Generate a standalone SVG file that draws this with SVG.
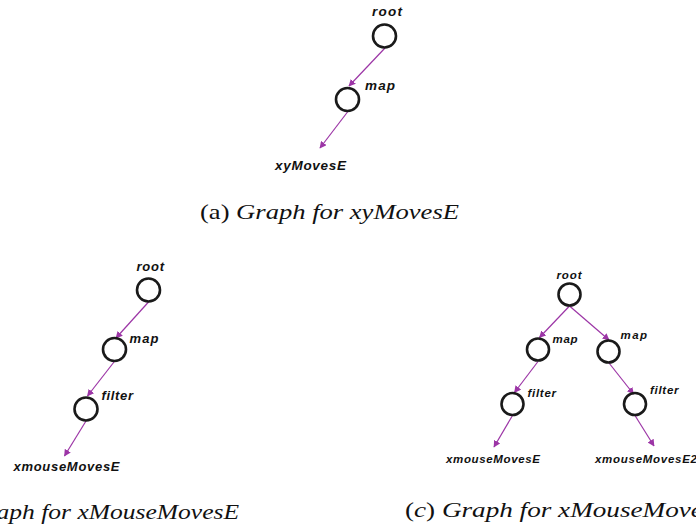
<svg xmlns="http://www.w3.org/2000/svg" width="696" height="531" viewBox="0 0 696 531">
<style>
.n{fill:none;stroke:#1a1a1a;stroke-width:2.6}
.lbl{font-family:"Liberation Sans",Arial,sans-serif;font-weight:bold;font-style:italic;fill:#111}
.a{font-size:13.5px}
.b{font-size:13px}
.c{font-size:11.5px}
.e{fill:none;stroke:#9C35A6;stroke-width:1.2;marker-end:url(#ah)}
.cap{font-family:"Liberation Serif","Times New Roman",serif;font-size:22px;fill:#111}
.it{font-style:italic}
</style>
<defs>
<marker id="ah" viewBox="0 0 10 10" refX="9" refY="5" markerWidth="7" markerHeight="7" markerUnits="userSpaceOnUse" orient="auto">
<path d="M0,0 L10,5 L0,10 z" fill="#9C35A6"/>
</marker>
</defs>
<g id="connectors">
<line class="e" x1="385" y1="48" x2="349" y2="86"/>
<line class="e" x1="347.5" y1="112" x2="320" y2="148"/>
<line class="e" x1="148.5" y1="302" x2="116" y2="338"/>
<line class="e" x1="114" y1="362" x2="87.5" y2="396"/>
<line class="e" x1="86" y1="421" x2="64.5" y2="456"/>
<line class="e" x1="569.5" y1="306" x2="539.5" y2="337.5"/>
<line class="e" x1="569.5" y1="306" x2="609" y2="340"/>
<line class="e" x1="538" y1="361.5" x2="514.5" y2="392.5"/>
<line class="e" x1="512.5" y1="415.5" x2="494" y2="447"/>
<line class="e" x1="609" y1="363" x2="633.5" y2="394"/>
<line class="e" x1="635" y1="415.5" x2="654" y2="446"/>
</g>
<g id="a-root"><circle class="n" cx="384.5" cy="36" r="11.5"/><text class="lbl a" x="372" y="16" textLength="30" lengthAdjust="spacing">root</text></g>
<g id="a-map"><circle class="n" cx="347.5" cy="99.5" r="11.5"/><text class="lbl a" x="365" y="90" textLength="30" lengthAdjust="spacing">map</text></g>
<g id="a-xyMovesE"><text class="lbl a" x="275" y="170" textLength="71" lengthAdjust="spacing">xyMovesE</text></g>
<g id="b-root"><circle class="n" cx="148.5" cy="290" r="11.5"/><text class="lbl b" x="136.5" y="270.5" textLength="27.5" lengthAdjust="spacing">root</text></g>
<g id="b-map"><circle class="n" cx="114.5" cy="349.5" r="11.5"/><text class="lbl b" x="129.5" y="342.5" textLength="29" lengthAdjust="spacing">map</text></g>
<g id="b-filter"><circle class="n" cx="86" cy="409" r="11.5"/><text class="lbl b" x="101.5" y="400" textLength="31.5" lengthAdjust="spacing">filter</text></g>
<g id="b-xmouseMovesE"><text class="lbl b" x="13.5" y="470.5" textLength="106" lengthAdjust="spacing">xmouseMovesE</text></g>
<g id="c-root"><circle class="n" cx="569.5" cy="294.5" r="11"/><text class="lbl c" x="556.5" y="279" textLength="25" lengthAdjust="spacing">root</text></g>
<g id="c-map1"><circle class="n" cx="538" cy="349.5" r="11"/><text class="lbl c" x="552.5" y="343" textLength="25" lengthAdjust="spacing">map</text></g>
<g id="c-map2"><circle class="n" cx="608.5" cy="351.5" r="11"/><text class="lbl c" x="620.5" y="339" textLength="26.5" lengthAdjust="spacing">map</text></g>
<g id="c-filter1"><circle class="n" cx="512.5" cy="404" r="11"/><text class="lbl c" x="527.5" y="396.5" textLength="28.5" lengthAdjust="spacing">filter</text></g>
<g id="c-filter2"><circle class="n" cx="635" cy="404" r="11"/><text class="lbl c" x="650" y="394" textLength="28.5" lengthAdjust="spacing">filter</text></g>
<g id="c-xmouseMovesE"><text class="lbl c" x="446" y="463" textLength="94" lengthAdjust="spacing">xmouseMovesE</text></g>
<g id="c-xmouseMovesE2"><text class="lbl c" x="595" y="463" textLength="102" lengthAdjust="spacing">xmouseMovesE2</text></g>
<text class="cap" x="200" y="219" textLength="259" lengthAdjust="spacingAndGlyphs">(a) <tspan class="it">Graph for xyMovesE</tspan></text>
<text class="cap" x="-68" y="519" textLength="307" lengthAdjust="spacingAndGlyphs">(b) <tspan class="it">Graph for xMouseMovesE</tspan></text>
<text class="cap" x="405" y="517" textLength="325" lengthAdjust="spacingAndGlyphs">(<tspan class="it">c</tspan>) <tspan class="it">Graph for xMouseMovesE</tspan></text>
</svg>
